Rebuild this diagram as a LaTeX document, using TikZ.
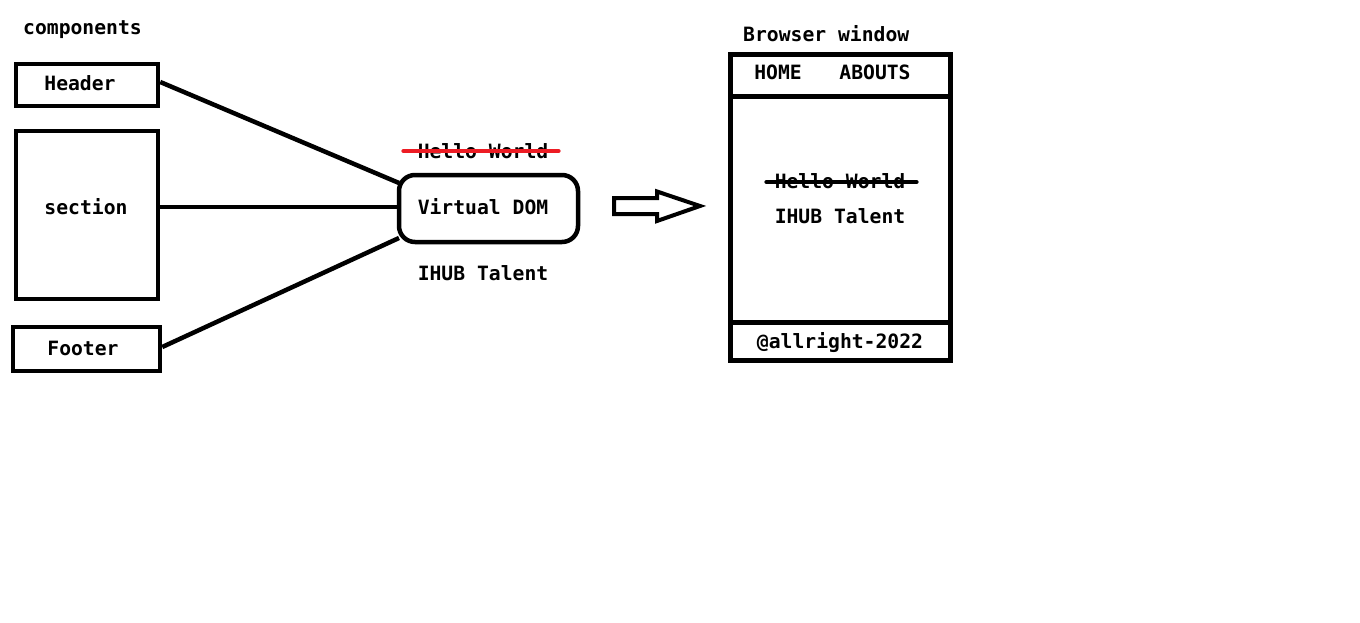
\documentclass[tikz,border=0pt]{standalone}
\usepackage{fontspec}
\newfontfamily\cfont{DejaVu Sans Mono}
\usetikzlibrary{calc}
\tikzset{
  lbl/.style={font=\cfont\bfseries\fontsize{19.7}{22}\selectfont, inner sep=0pt, text=black, anchor=base},
  box/.style={draw=black, line width=4.5pt, inner sep=0pt},
  conn/.style={draw=black, line width=4.5pt},
  strike/.style={line width=4.5pt, line cap=round},
}
\begin{document}
\begin{tikzpicture}[x=1pt,y=-1pt]
\useasboundingbox[fill=white] (0,0) rectangle (1360,623);
% left components
\node[lbl, anchor=base west] (comp) at (23,35) {components};
\node[box, minimum width=142pt, minimum height=42pt] (header) at (87,85) {};
\node[lbl] (headert) at (80,91) {Header};
\node[box, minimum width=142pt, minimum height=168pt] (section) at (87,215) {};
\node[lbl] (sectiont) at (86,214) {section};
\node[box, minimum width=147pt, minimum height=44pt] (footer) at (86.5,349) {};
\node[lbl] (footert) at (83,355) {Footer};
% virtual DOM
\node[box, rounded corners=16pt, minimum width=179pt, minimum height=67pt] (vdom) at (488.5,208.5) {};
\node[lbl] (vdomt) at (483,214) {Virtual DOM};
\node[lbl] (hw1) at (483,159) {Hello World};
\draw[strike, draw={rgb,255:red,237;green,28;blue,36}] ($(hw1.base west)+(-14,-8)$) -- ($(hw1.base east)+(10,-8)$);
\node[lbl] (ihub1) at (483,280) {IHUB Talent};
% connectors
\coordinate (vdomA) at (399,183);
\coordinate (vdomB) at (399,207);
\coordinate (vdomC) at (399,238);
\draw[conn] (header.east |- 0,82) -- (vdomA);
\draw[conn] (section.east |- 0,207) -- (vdomB);
\draw[conn] (footer.east |- 0,347) -- (vdomC);
% arrow
\draw[line width=4pt, line join=miter] (614,198) -- (657,198) -- (657,191.5) -- (700,206) -- (657,221) -- (657,214) -- (614,214) -- cycle;
% browser window
\node[lbl, anchor=base west] (bw) at (743,42) {Browser window};
\node[box, minimum width=220pt, minimum height=306pt] (browser) at (840.5,207.5) {};
\draw[conn] (browser.west |- 0,96.5) -- (browser.east |- 0,96.5);
\draw[conn] (browser.west |- 0,322.5) -- (browser.east |- 0,322.5);
\node[lbl] (home) at (778,80) {HOME};
\node[lbl] (abouts) at (875,80) {ABOUTS};
\node[lbl] (hw2) at (840,188) {Hello World};
\draw[strike, black] ($(hw2.base west)+(-8,-6)$) -- ($(hw2.base east)+(11,-6)$);
\node[lbl] (ihub2) at (840,223) {IHUB Talent};
\node[lbl] (copy) at (840,348) {@allright-2022};
\end{tikzpicture}
\end{document}
